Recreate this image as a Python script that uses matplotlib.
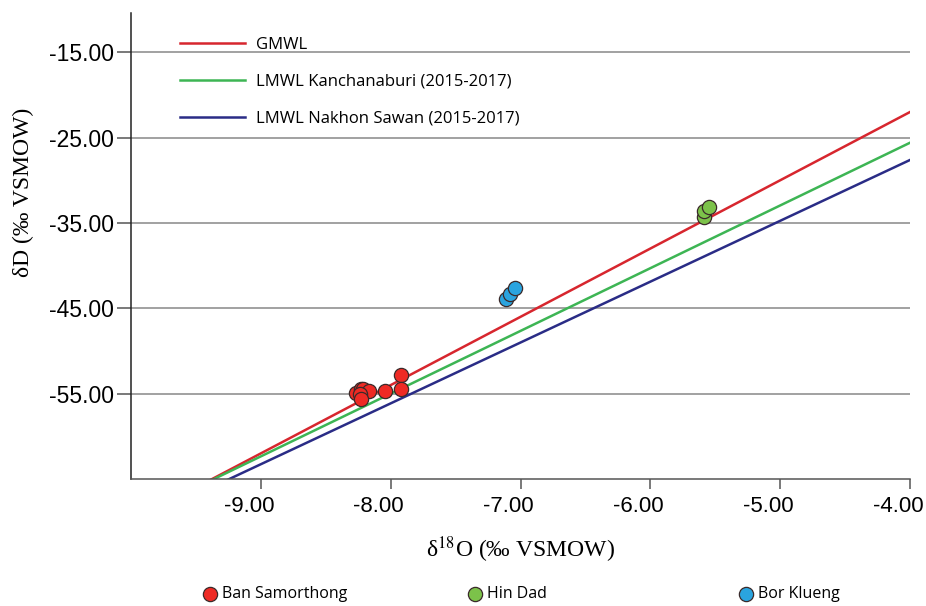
import matplotlib
matplotlib.use("Agg")
import matplotlib.pyplot as plt
import matplotlib.transforms as mtransforms
import numpy as np

# sample isotopes (d18O, dD), permil VSMOW
ban_d18o = [-8.27, -8.23, -8.21, -8.17, -8.24, -8.23, -8.04, -7.92, -7.92]
ban_dd = [-54.9, -54.5, -54.45, -54.7, -55.1, -55.6, -54.7, -52.8, -54.5]
hin_d18o = [-5.585, -5.59, -5.55]
hin_dd = [-34.3, -33.6, -33.1]
bor_d18o = [-7.115, -7.08, -7.044]
bor_dd = [-43.9, -43.3, -42.6]

# meteoric water lines: dD = slope * d18O + intercept
line_names = ["GMWL", "LMWL Kanchanaburi (2015-2017)", "LMWL Nakhon Sawan (2015-2017)"]
line_slopes = [8.0, 7.35, 7.13]
line_intercepts = [10.0, 3.8, 0.9]
line_colors = ["#D7262E", "#3DB554", "#2A2C86"]

site_names = ["Ban Samorthong", "Hin Dad", "Bor Klueng"]
site_colors = ["#EE2A24", "#7CC24A", "#2AA4DF"]

x_ticks = [-9.0, -8.0, -7.0, -6.0, -5.0, -4.0]
y_ticks = [-55.0, -45.0, -35.0, -25.0, -15.0]

plt.rcParams["mathtext.fontset"] = "stix"

fig = plt.figure(figsize=(9.26, 6.06), dpi=100)
ax = fig.add_axes([0.1415, 0.2096, 0.8412, 0.7689])

for yt in y_ticks:
    ax.axhline(yt, color="#9a9a9a", linewidth=1.3, zorder=1)

xs = np.linspace(-10, -4, 50)
line_handles = []
for name, m, b, c in zip(line_names, line_slopes, line_intercepts, line_colors):
    h, = ax.plot(xs, m * xs + b, color=c, linewidth=1.8, label=name, zorder=2)
    line_handles.append(h)

pts = [(ban_d18o, ban_dd), (hin_d18o, hin_dd), (bor_d18o, bor_dd)]
site_handles = []
for (px, py), c, name in zip(pts, site_colors, site_names):
    h = ax.scatter(px, py, s=105, color=c, edgecolor="#3a2a2a", linewidth=0.9, zorder=3, label=name)
    site_handles.append(h)

ax.set_xlim(-10, -4)
ax.set_ylim(-65, -10.4)
ax.set_xticks(x_ticks)
ax.set_xticklabels([f"{v:.2f}" for v in x_ticks])
ax.set_yticks(y_ticks)
ax.set_yticklabels([f"{v:.2f}" for v in y_ticks])
for lab in ax.get_xticklabels() + ax.get_yticklabels():
    lab.set_family("Liberation Sans")
ax.tick_params(axis="x", labelsize=16, length=7, width=1.1, color="#555555", pad=5)
ax.tick_params(axis="y", labelsize=16.5, length=10, width=1.1, color="#555555", pad=2)

# x labels sit a little left of their ticks in the original
shift = mtransforms.ScaledTranslation(-0.12, 0, fig.dpi_scale_trans)
for lab in ax.get_xticklabels():
    lab.set_transform(lab.get_transform() + shift)

ax.spines["top"].set_visible(False)
ax.spines["right"].set_visible(False)
ax.spines["left"].set_color("#222222")
ax.spines["left"].set_linewidth(1.1)
ax.spines["bottom"].set_color("#555555")
ax.spines["bottom"].set_linewidth(1.1)

ax.set_xlabel(r"δ$^{18}$O (‰ VSMOW)", fontsize=17, family="Liberation Serif", labelpad=14)
ax.set_ylabel("δD (‰ VSMOW)", fontsize=17, family="Liberation Serif", labelpad=6)
ax.yaxis.set_label_coords(-0.125, 0.615)
ax.xaxis.set_label_coords(0.5, -0.118)

ax.legend(handles=line_handles, loc="upper left", bbox_to_anchor=(0.063, 0.949),
          frameon=False, handlelength=3.9, handletextpad=0.65, labelspacing=1.25,
          borderaxespad=0, borderpad=0,
          prop={"family": "Open Sans", "size": 12})

leg_x = [0.222, 0.508, 0.800]
for h, name, lx in zip(site_handles, site_names, leg_x):
    fig.legend(handles=[h], labels=[name], loc="center left", bbox_to_anchor=(lx, 0.02),
               frameon=False, handlelength=0.6, handletextpad=0.45,
               borderpad=0, borderaxespad=0,
               prop={"family": "Open Sans", "size": 11.5})

fig.savefig("out.png", dpi=100)
